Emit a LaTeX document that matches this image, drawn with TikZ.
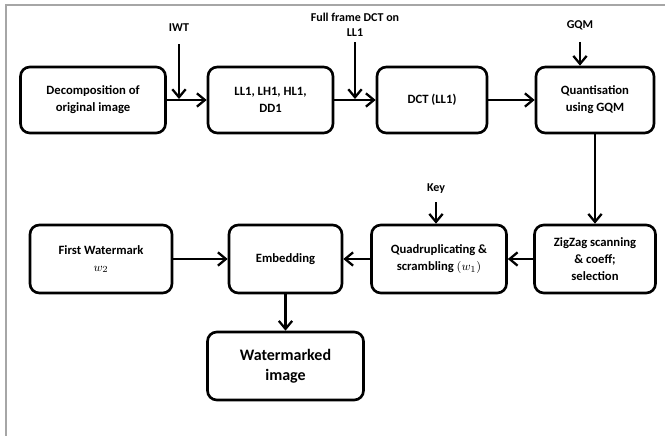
\documentclass[tikz,border=0pt]{standalone}
\usepackage{fontspec}
\setmainfont{Carlito}
\usetikzlibrary{arrows.meta,positioning}

\begin{document}
\begin{tikzpicture}[
  x=0.75pt, y=-0.75pt,
  >={Straight Barb[length=6pt,width=10pt]},
  box/.style={draw, line width=2pt, rounded corners=7pt, minimum height=49.5pt, font=\bfseries\fontsize{9.5}{12.75}\selectfont, align=center},
  lbl/.style={font=\bfseries\fontsize{9}{11.5}\selectfont, align=center, inner sep=1pt},
  arr/.style={->, line width=1.7pt},
]
\useasboundingbox (0,0) rectangle (665,436);
\draw[gray!70, line width=1.2pt] (6,436) -- (6,5) -- (665,5);

% Top row
\node[box, minimum width=108.75pt] (decomp) at (93,100) {Decomposition of\\original image};
\node[box, minimum width=93.75pt] (subbands) at (270.5,100) {LL1, LH1, HL1,\\DD1};
\node[box, minimum width=82.5pt] (dct) at (432,100) {DCT (LL1)};
\node[box, minimum width=88.5pt] (quant) at (595,100) {Quantisation\\using GQM};

% Second row
\node[box, minimum width=90.75pt, minimum height=51pt] (zigzag) at (595,259) {ZigZag scanning\\\& coeff;\\selection};
\node[box, minimum width=101.25pt, minimum height=51pt] (quad) at (439,259) {Quadruplicating \&\\scrambling $(w_1)$};
\node[box, minimum width=84.75pt, minimum height=51pt] (embed) at (285.5,259) {Embedding};
\node[box, minimum width=106.5pt, minimum height=51pt] (firstwm) at (101,259) {First Watermark\\$w_2$};

% Output
\node[box, minimum width=117pt, minimum height=51pt, font=\bfseries\fontsize{12}{15}\selectfont] (wmimg) at (285.5,366) {Watermarked\\image};

% Inputs
\node[lbl] (iwt) at (179,28) {IWT};
\node[lbl] (fullframe) at (355,25) {Full frame DCT on\\LL1};
\node[lbl] (gqm) at (580,25) {GQM};
\node[lbl] (key) at (436,189) {Key};
\coordinate (iwtin) at (179,99);
\coordinate (ffin) at (355,99);

% Arrows
\draw[arr] (decomp) -- (subbands);
\draw[arr] (subbands) -- (dct);
\draw[arr] (dct) -- (quant);
\draw[arr] (quant) -- (zigzag);
\draw[arr] (zigzag) -- (quad);
\draw[arr] (quad) -- (embed);
\draw[arr] (firstwm) -- (embed);
\draw[arr] (embed) -- (wmimg);
\draw[arr, shorten <=8pt] (iwt) -- (iwtin);
\draw[arr, shorten <=3pt] (fullframe) -- (ffin);
\draw[arr, shorten <=8pt] (gqm) -- (gqm |- quant.north);
\draw[arr, shorten <=5pt] (key) -- (key |- quad.north);
\end{tikzpicture}
\end{document}
